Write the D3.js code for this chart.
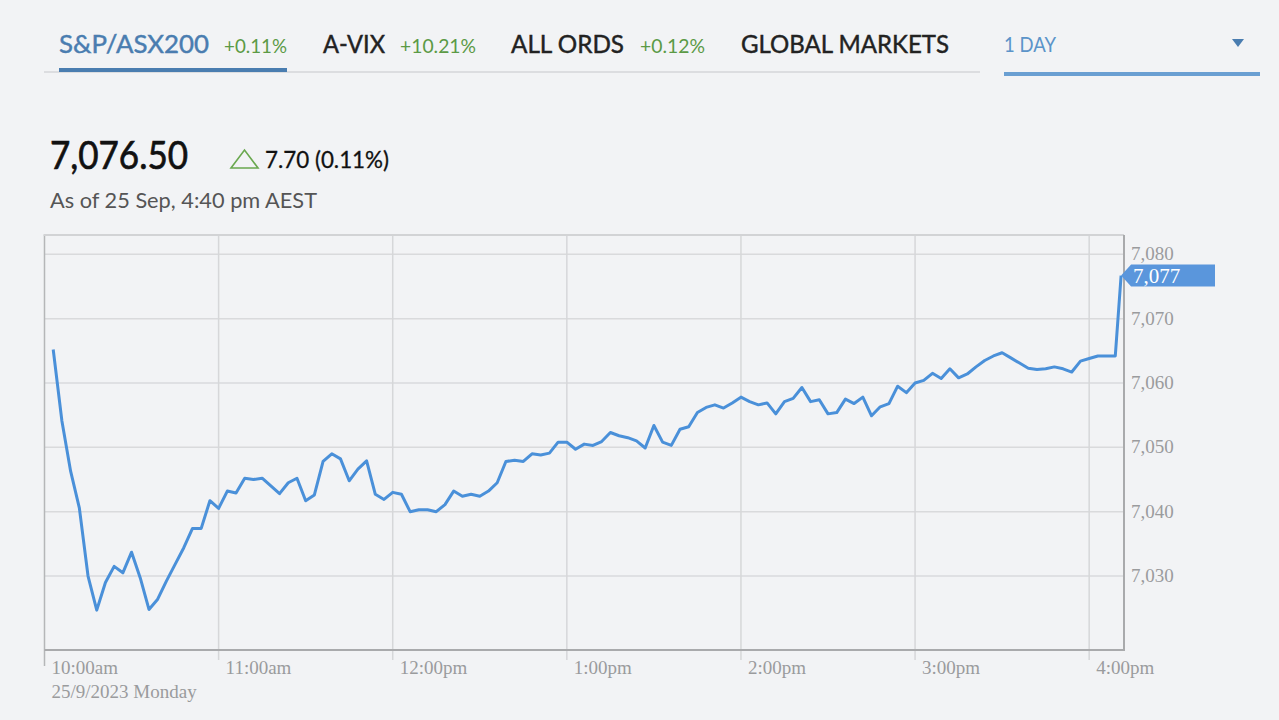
<!DOCTYPE html>
<html>
<head>
<meta charset="utf-8">
<script src="https://cdn.jsdelivr.net/npm/d3@7"></script>
<style>
  html, body { margin: 0; padding: 0; background: #f2f3f5; }
  svg { display: block; }
</style>
</head>
<body>
<svg id="chart" width="1279" height="720"></svg>
<script>
// ---------------- DATA ----------------
const tabNames   = ["S&P/ASX200", "A-VIX", "ALL ORDS", "GLOBAL MARKETS"];
const tabChanges = ["+0.11%", "+10.21%", "+0.12%", ""];
const periodLabel = "1 DAY";
const lastPrice = "7,076.50";
const changeText = "7.70 (0.11%)";
const asOfText = "As of 25 Sep, 4:40 pm AEST";
const dateLabel = "25/9/2023 Monday";

const xTickHours  = [10, 11, 12, 13, 14, 15, 16];
const xTickLabels = ["10:00am", "11:00am", "12:00pm", "1:00pm", "2:00pm", "3:00pm", "4:00pm"];
const yTicks      = [7030, 7040, 7050, 7060, 7070, 7080];

// Prices sampled every 3 minutes from 10:03, final closing print at 4:11pm
const firstSample = [10, 3];     // hh, mm
const sampleStepMin = 3;
const closeSample = [16, 11];
const prices = [
  7065.2, 7054.1, 7046.3, 7040.6, 7030.0, 7024.7, 7029.0, 7031.5, 7030.5, 7033.7,
  7029.7, 7024.8, 7026.4, 7029.2, 7031.8, 7034.4, 7037.4, 7037.4, 7041.7, 7040.5,
  7043.2, 7042.9, 7045.2, 7045.0, 7045.2, 7044.0, 7042.8, 7044.5, 7045.2, 7041.7,
  7042.6, 7047.8, 7049.0, 7048.2, 7044.8, 7046.6, 7047.9, 7042.7, 7041.9, 7043.0,
  7042.7, 7040.0, 7040.3, 7040.3, 7040.0, 7041.1, 7043.2, 7042.4, 7042.7, 7042.4,
  7043.2, 7044.5, 7047.8, 7048.0, 7047.8, 7049.0, 7048.8, 7049.1, 7050.8, 7050.8,
  7049.7, 7050.5, 7050.3, 7050.9, 7052.3, 7051.8, 7051.5, 7051.0, 7049.9, 7053.4,
  7050.8, 7050.3, 7052.8, 7053.2, 7055.4, 7056.2, 7056.6, 7056.1, 7056.9, 7057.8,
  7057.1, 7056.6, 7056.9, 7055.2, 7057.1, 7057.6, 7059.3, 7057.1, 7057.4, 7055.2,
  7055.4, 7057.5, 7056.8, 7057.8, 7054.9, 7056.3, 7056.8, 7059.5, 7058.5, 7060.0,
  7060.4, 7061.5, 7060.7, 7062.2, 7060.8, 7061.4, 7062.5, 7063.5, 7064.2, 7064.7,
  7063.9, 7063.1, 7062.3, 7062.1, 7062.2, 7062.5, 7062.2, 7061.7, 7063.4, 7063.8,
  7064.2, 7064.2, 7064.2, 7076.7
];

(function () {
// ---------------- BUILD ----------------
const day = (h, m) => new Date(2023, 8, 25, h, m);
const series = prices.map((v, i) => {
  const t = (i === prices.length - 1)
    ? day(closeSample[0], closeSample[1])
    : day(firstSample[0], firstSample[1] + i * sampleStepMin);
  return { t, v };
});

const svg = d3.select("#chart");
const W = 1279, H = 720;
svg.append("rect").attr("width", W).attr("height", H).attr("fill", "#f2f3f5");

const sans = "Lato, 'Open Sans', sans-serif";
const serif = "'Liberation Serif', 'DejaVu Serif', serif";

// ---------- Header tabs ----------
const tabLayout = [
  { x: 59,  w: 150, cx: 224, cw: 63 },
  { x: 323, w: 62,  cx: 400, cw: 76 },
  { x: 511, w: 113, cx: 640, cw: 65 },
  { x: 741, w: 208, cx: 0,   cw: 0 }
];
const hdr = svg.append("g");
tabNames.forEach((name, i) => {
  const L = tabLayout[i];
  const col = i === 0 ? "#4a7db0" : "#222";
  hdr.append("text")
    .attr("x", L.x).attr("y", 53)
    .attr("font-family", sans).attr("font-size", 25)
    .attr("fill", col).attr("stroke", col).attr("stroke-width", 0.45)
    .attr("textLength", L.w).attr("lengthAdjust", "spacingAndGlyphs")
    .text(name);
  if (tabChanges[i]) {
    hdr.append("text")
      .attr("x", L.cx).attr("y", 53)
      .attr("font-family", sans).attr("font-size", 19)
      .attr("fill", "#5b9a45")
      .attr("textLength", L.cw).attr("lengthAdjust", "spacingAndGlyphs")
      .text(tabChanges[i]);
  }
});
hdr.append("rect").attr("x", 44).attr("y", 71).attr("width", 936).attr("height", 2).attr("fill", "#dcdde0");
hdr.append("rect").attr("x", 59).attr("y", 68).attr("width", 228).attr("height", 4).attr("fill", "#4a7db0");
hdr.append("text")
  .attr("x", 1004).attr("y", 52)
  .attr("font-family", sans).attr("font-size", 21)
  .attr("fill", "#5b94c9")
  .attr("textLength", 52).attr("lengthAdjust", "spacingAndGlyphs")
  .text(periodLabel);
hdr.append("path").attr("d", "M1232,39 L1244,39 L1238,47 Z").attr("fill", "#4a7db0");
hdr.append("rect").attr("x", 1004).attr("y", 72).attr("width", 256).attr("height", 4).attr("fill", "#6a9fd2");

// ---------- Price summary ----------
hdr.append("text")
  .attr("x", 50).attr("y", 169)
  .attr("font-family", sans).attr("font-size", 39)
  .attr("fill", "#111").attr("stroke", "#111").attr("stroke-width", 0.7)
  .attr("textLength", 138).attr("lengthAdjust", "spacingAndGlyphs")
  .text(lastPrice);
hdr.append("path").attr("d", "M231,168 L258,168 L244.5,150 Z")
  .attr("fill", "none").attr("stroke", "#6aa84f").attr("stroke-width", 1.6);
hdr.append("text")
  .attr("x", 265).attr("y", 168)
  .attr("font-family", sans).attr("font-size", 23)
  .attr("fill", "#111").attr("stroke", "#111").attr("stroke-width", 0.3)
  .attr("textLength", 124).attr("lengthAdjust", "spacingAndGlyphs")
  .text(changeText);
hdr.append("text")
  .attr("x", 50).attr("y", 208)
  .attr("font-family", sans).attr("font-size", 22)
  .attr("fill", "#555")
  .attr("textLength", 267).attr("lengthAdjust", "spacingAndGlyphs")
  .text(asOfText);

// ---------- Chart ----------
const pL = 44.5, pR = 1124, pT = 235, pB = 650;
const x = d3.scaleTime().domain([day(10, 0), day(16, 12)]).range([pL, pR]);
const y = d3.scaleLinear().domain([7018.5, 7083]).range([pB, pT]);

const g = svg.append("g");

g.selectAll(".hg").data(yTicks).enter().append("line")
  .attr("x1", pL).attr("x2", pR)
  .attr("y1", d => y(d)).attr("y2", d => y(d))
  .attr("stroke", "#d9dadc").attr("stroke-width", 1.5);

g.selectAll(".vg").data(xTickHours).enter().append("line")
  .attr("x1", d => x(day(d, 0))).attr("x2", d => x(day(d, 0)))
  .attr("y1", pT).attr("y2", (d, i) => i === 0 ? pB + 16 : pB + 10)
  .attr("stroke", (d, i) => i === 0 ? "#b5b6b8" : "#d6d7d9")
  .attr("stroke-width", 1.5);

g.append("line").attr("x1", pL - 1).attr("x2", pR).attr("y1", pT).attr("y2", pT)
  .attr("stroke", "#d2d3d5").attr("stroke-width", 2);
g.append("line").attr("x1", pR).attr("x2", pR).attr("y1", pT).attr("y2", pB)
  .attr("stroke", "#a9aaac").attr("stroke-width", 2);
g.append("line").attr("x1", pL).attr("x2", pR + 1).attr("y1", pB).attr("y2", pB)
  .attr("stroke", "#a9aaac").attr("stroke-width", 2);

const fmt = d3.format(",");
g.selectAll(".yl").data(yTicks).enter().append("text")
  .attr("x", pR + 7).attr("y", d => y(d) + 6)
  .attr("font-family", serif).attr("font-size", 19)
  .attr("fill", "#9a9b9d")
  .text(d => fmt(d));

g.selectAll(".xl").data(xTickHours).enter().append("text")
  .attr("x", d => x(day(d, 0)) + 7).attr("y", 674)
  .attr("font-family", serif).attr("font-size", 19)
  .attr("fill", "#9a9b9d")
  .text((d, i) => xTickLabels[i]);
g.append("text")
  .attr("x", x(day(10, 0)) + 7).attr("y", 698)
  .attr("font-family", serif).attr("font-size", 19)
  .attr("fill", "#9a9b9d")
  .text(dateLabel);

const line = d3.line().x(d => x(d.t)).y(d => y(d.v));
g.append("path").datum(series)
  .attr("d", line)
  .attr("fill", "none")
  .attr("stroke", "#4a90d9")
  .attr("stroke-width", 3)
  .attr("stroke-linejoin", "round");

const last = series[series.length - 1];
const ly = y(last.v);
const tagX = x(last.t);
g.append("path")
  .attr("d", `M${tagX},${ly} L${tagX + 10},${ly - 11} L1215,${ly - 11} L1215,${ly + 11} L${tagX + 10},${ly + 11} Z`)
  .attr("fill", "#5a96dc");
g.append("text")
  .attr("x", tagX + 12).attr("y", ly + 7.5)
  .attr("font-family", serif).attr("font-size", 21)
  .attr("fill", "#ffffff")
  .text(fmt(Math.round(last.v)));
})();
</script>
</body>
</html>
